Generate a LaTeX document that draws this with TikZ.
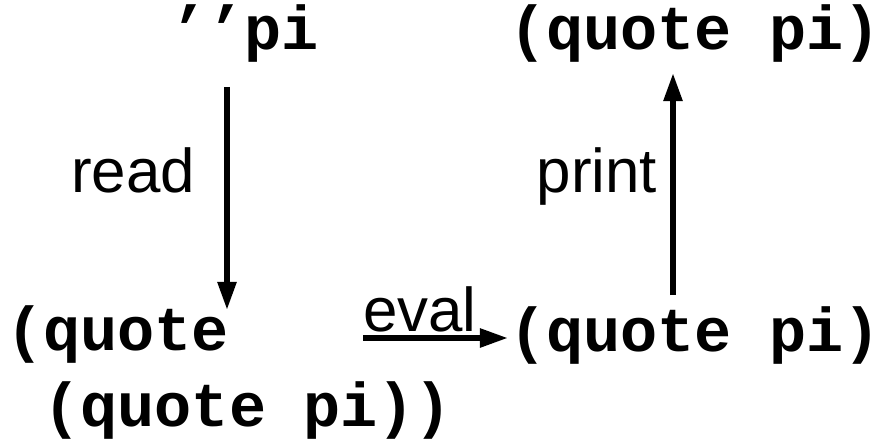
\documentclass[tikz,border=0pt]{standalone}
\usepackage{fontspec}
\setsansfont{Liberation Sans}
\setmonofont{Liberation Mono}
\usetikzlibrary{arrows.meta}

\begin{document}
\begin{tikzpicture}[x=0.025cm, y=-0.025cm,
  code/.style={inner sep=0pt, anchor=base west, align=left,
    font=\fontsize{44}{53.5}\selectfont\ttfamily\bfseries},
  lbl/.style={inner sep=0pt, anchor=base,
    font=\fontsize{44}{53.5}\selectfont\sffamily},
  flow/.style={-{Triangle[width=12.8pt,length=20pt]}, line width=4pt}]
\useasboundingbox (0,0) rectangle (880,440);

% the four forms
\node[code] (src) at (170,50) {’’pi};
\node[code] (outp) at (509,50) {(quote pi)};
\node[code] (readf) at (6,426) {(quote\\\phantom{(}(quote pi))};
\node[code] (evalf) at (509,351) {(quote pi)};

% arrow ends
\coordinate (rd0) at (227,87);
\coordinate (rd1) at (227,310);
\coordinate (ev0) at (363,338);
\coordinate (ev1) at (508,338);
\coordinate (pr0) at (673,295);
\coordinate (pr1) at (673,73);

\draw[flow] (rd0) -- (rd1);
\draw[flow] (ev0) -- (ev1);
\draw[flow] (pr0) -- (pr1);

\node[lbl] (readl) at (133,192) {read};
\node[lbl] (evall) at (420,331) {eval};
\node[lbl] (printl) at (597,192) {print};
\end{tikzpicture}
\end{document}
